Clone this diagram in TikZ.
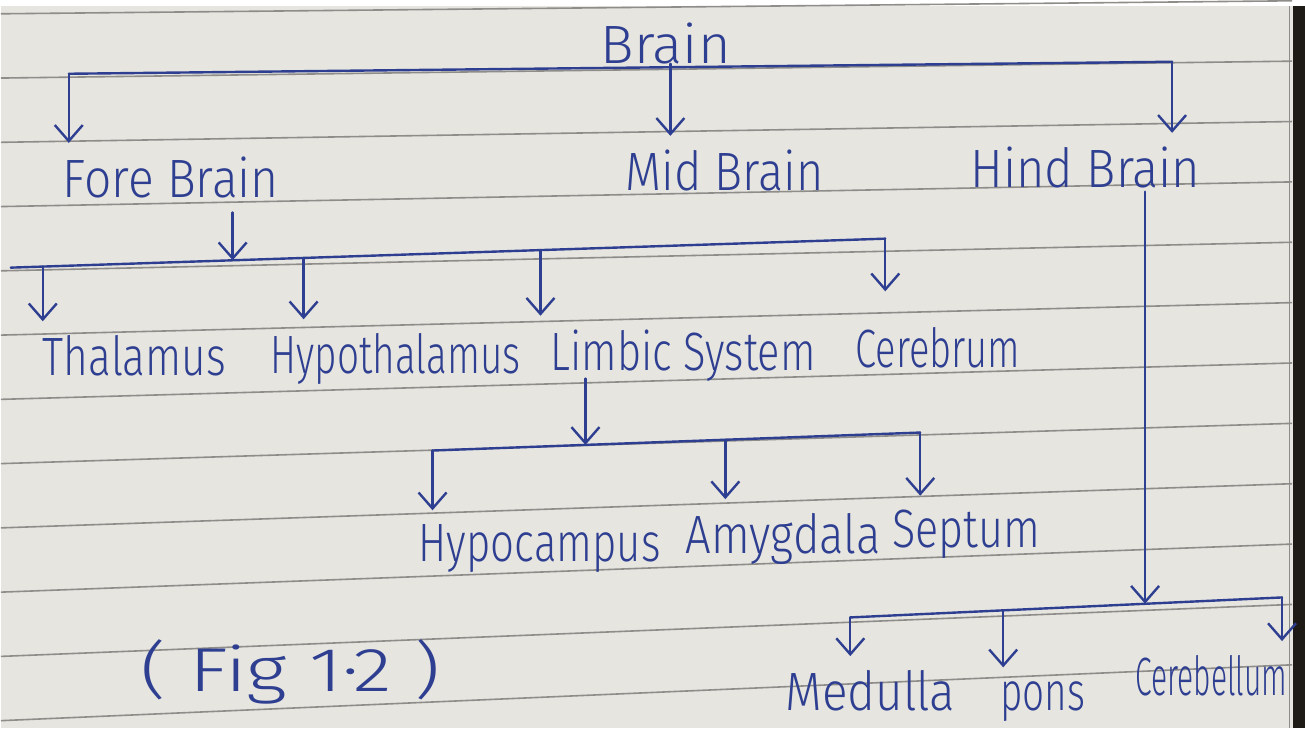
\documentclass[tikz,border=0pt]{standalone}
\usepackage{fontspec}
\usepackage{graphicx}
\setmainfont{Fira Sans}[UprightFont=* Light]
\usetikzlibrary{arrows.meta}
\definecolor{ink}{HTML}{2E3F92}
\definecolor{paper}{HTML}{E7E5DF}
\definecolor{ruleclr}{HTML}{8E8D8A}
\definecolor{edgeclr}{HTML}{1E1A16}
\newcommand{\fitw}[2]{\resizebox{#1pt}{\height}{#2}}
\begin{document}
\begin{tikzpicture}[x=1pt,y=-1pt,
  lbl/.style={text=ink, font=\fontsize{54}{60}\selectfont, inner xsep=0pt, inner ysep=14pt, anchor=base west},
  conn/.style={draw=ink, line width=2.4pt, line cap=round, line join=round},
  arr/.style={conn, -{Straight Barb[length=16pt,width=28pt,line width=2.4pt]}},
  ruled/.style={draw=ruleclr, line width=1.6pt}]
% paper
\fill[paper] (0,0) rectangle (1305,723);
\foreach \i in {0,...,11} {
  \pgfmathsetmacro\yl{8+64.3*\i}
  \pgfmathsetmacro\yr{\yl-13-3.9*\i}
  \draw[ruled] (0,\yl) -- (1292,\yr);
}
\fill[edgeclr] (1293,0) rectangle (1305,723);
\draw[black!45, line width=1pt] (1289,0) -- (1289,723);
\useasboundingbox (0,0) rectangle (1305,723);

% labels
\node[lbl] (brain) at (600,58)  {\fitw{130}{Brain}};
\node[lbl] (fore)  at (62,192)  {\fitw{216}{Fore Brain}};
\node[lbl] (mid)   at (625,185) {\fitw{198}{Mid Brain}};
\node[lbl] (hind)  at (970,182) {\fitw{230}{Hind Brain}};
\node[lbl] (thal)  at (42,370)  {\fitw{183}{Thalamus}};
\node[lbl] (hypo)  at (270,368) {\fitw{250}{Hypothalamus}};
\node[lbl] (limb)  at (550,365) {\fitw{265}{Limbic System}};
\node[lbl] (cere)  at (855,362) {\fitw{165}{Cerebrum}};
\node[lbl] (hipp)  at (418,556) {\fitw{242}{Hypocampus}};
\node[lbl] (amyg)  at (685,548) {\fitw{195}{Amygdala}};
\node[lbl] (sept)  at (892,542) {\fitw{148}{Septum}};
\node[lbl] (medu)  at (785,705) {\fitw{170}{Medulla}};
\node[lbl] (pons)  at (1000,705) {\fitw{85}{pons}};
\node[lbl] (cbel)  at (1135,690) {\fitw{152}{Cerebellum}};
\node[lbl, font=\fontsize{62}{68}\selectfont] (fig) at (140,686) {\fitw{300}{( Fig 1·2 )}};

% bus coordinates
\coordinate (t1L) at (68,68);
\coordinate (t1R) at (1172,56);
\coordinate (t1M) at (670,61.5);
\coordinate (b2L) at (10,262);
\coordinate (b2R) at (885,233);
\coordinate (b2a) at (42,260.9);
\coordinate (b2f) at (232,254.6);
\coordinate (b2b) at (303,252.3);
\coordinate (b2c) at (540,244.4);
\coordinate (b3L) at (432,445);
\coordinate (b3R) at (920,427);
\coordinate (b3m) at (585,439.4);
\coordinate (b3a) at (725,434.2);
\coordinate (b4L) at (850,612);
\coordinate (b4R) at (1282,592);
\coordinate (b4h) at (1145,598.3);
\coordinate (b4p) at (1003,604.9);

% Brain
\draw[conn] (t1L) -- (t1R);
\draw[arr] (brain.base -| t1M) -- (t1M |- mid.north);
\draw[arr] (t1L) -- (t1L |- fore.north);
\draw[arr] (t1R) -- (t1R |- hind.north);

% Fore Brain
\draw[conn] (b2L) -- (b2R);
\draw[arr] (fore.south -| b2f) -- (b2f);
\draw[arr] (b2a) -- (b2a |- thal.north);
\draw[arr] (b2b) -- (b2b |- hypo.north);
\draw[arr] (b2c) -- (b2c |- limb.north);
\draw[arr, shorten >=22pt] (b2R) -- (b2R |- cere.north);

% Limbic System
\draw[arr] (limb.base -| b3m) ++(0,8) -- (b3m);
\draw[conn] (b3L) -- (b3R);
\draw[arr] (b3L) -- (b3L |- hipp.north);
\draw[arr] (b3a) -- (b3a |- amyg.north);
\draw[arr] (b3R) -- (b3R |- sept.north);

% Hind Brain
\draw[arr] (hind.base -| b4h) ++(0,4) -- (b4h);
\draw[conn] (b4L) -- (b4R);
\draw[arr] (b4L) -- (b4L |- medu.north);
\draw[arr] (b4p) -- (b4p |- pons.north);
\draw[arr] (b4R) -- (b4R |- cbel.north);
\end{tikzpicture}
\end{document}
